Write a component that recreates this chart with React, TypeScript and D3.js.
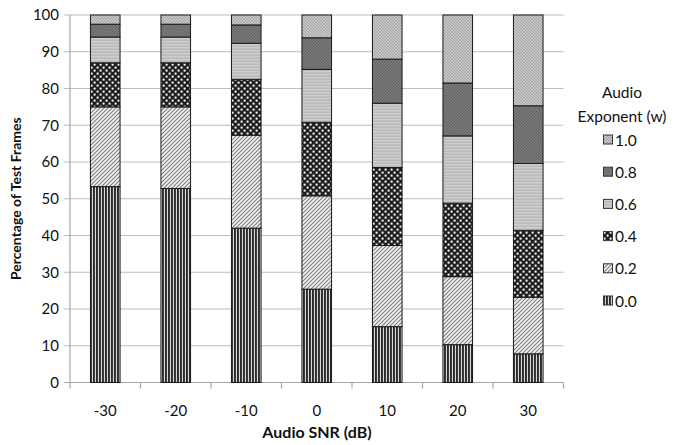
import React from "react";
import * as d3 from "d3";

// Audio SNR levels (dB) along the x axis
const snrLevels = ["-30", "-20", "-10", "0", "10", "20", "30"];
// Audio exponent weights, bottom of the stack first
const exponents = ["0.0", "0.2", "0.4", "0.6", "0.8", "1.0"];
// Percentage of test frames for each exponent at each SNR level
const w00 = [53.3, 52.8, 42.0, 25.4, 15.2, 10.3, 7.8];
const w02 = [21.7, 22.2, 25.3, 25.4, 22.1, 18.5, 15.4];
const w04 = [12.0, 12.0, 15.2, 20.0, 21.2, 20.0, 18.2];
const w06 = [7.0, 7.0, 9.8, 14.4, 17.5, 18.3, 18.2];
const w08 = [3.5, 3.5, 5.0, 8.6, 12.0, 14.4, 15.7];
const w10 = [2.5, 2.5, 2.7, 6.2, 12.0, 18.5, 24.7];
const yTicks = [0, 10, 20, 30, 40, 50, 60, 70, 80, 90, 100];

const seriesValues = [w00, w02, w04, w06, w08, w10];

const W = 675;
const H = 445;
const margin = { left: 70, right: 111.5, top: 15, bottom: 62.5 };
const FONT = "Lato, 'Open Sans', sans-serif";

const patternIds = ["pat00", "pat02", "pat04", "pat06", "pat08", "pat10"];

function Patterns() {
  return (
    <defs>
      {/* vertical stripes */}
      <pattern id="pat00" width={3} height={4} patternUnits="userSpaceOnUse">
        <rect width={3} height={4} fill="#d8d8d8" />
        <rect x={0} width={1.9} height={4} fill="#2a2a2a" />
      </pattern>
      {/* light upward diagonal */}
      <pattern id="pat02" width={4} height={4} patternUnits="userSpaceOnUse">
        <rect width={4} height={4} fill="#f2f2f2" />
        <path d="M-1,5 L5,-1 M-1,1 L1,-1 M3,5 L5,3" stroke="#7e7e7e" strokeWidth={1.1} />
      </pattern>
      {/* checker dots */}
      <pattern id="pat04" width={6} height={6} patternUnits="userSpaceOnUse">
        <rect width={6} height={6} fill="#1e1e1e" />
        <rect x={0.6} y={0.6} width={2} height={2} fill="#ffffff" />
        <rect x={3.6} y={3.6} width={2} height={2} fill="#ffffff" />
      </pattern>
      {/* light gray wave texture */}
      <pattern id="pat06" width={4} height={3} patternUnits="userSpaceOnUse">
        <rect width={4} height={3} fill="#cdcdcd" />
        <path d="M0,1.5 L1,0.8 L2,1.5 L3,0.8 L4,1.5" stroke="#a2a2a2" strokeWidth={0.7} fill="none" />
      </pattern>
      {/* dark gray texture */}
      <pattern id="pat08" width={3} height={3} patternUnits="userSpaceOnUse">
        <rect width={3} height={3} fill="#7a7a7a" />
        <path d="M0,3 L3,0" stroke="#585858" strokeWidth={0.8} />
      </pattern>
      {/* light downward diagonal */}
      <pattern id="pat10" width={3} height={3} patternUnits="userSpaceOnUse">
        <rect width={3} height={3} fill="#c6c6c6" />
        <path d="M0,0 L3,3" stroke="#989898" strokeWidth={0.8} />
      </pattern>
    </defs>
  );
}

export default function App() {
  const x = d3
    .scaleBand<string>()
    .domain(snrLevels)
    .range([margin.left, W - margin.right])
    .paddingInner(0.58)
    .paddingOuter(0.29);
  const y = d3
    .scaleLinear()
    .domain([0, 100])
    .range([H - margin.bottom, margin.top]);

  const rows = snrLevels.map((snr, i) => {
    const r: Record<string, number | string> = { snr };
    exponents.forEach((e, k) => (r[e] = seriesValues[k][i]));
    return r;
  });
  const stacked = d3.stack<Record<string, number | string>>().keys(exponents)(rows as any);

  const band = (W - margin.right - margin.left) / snrLevels.length;
  const x0 = margin.left;
  const x1 = W - margin.right;
  const yBase = y(0);

  const legendItems = [...exponents].reverse();
  const legendY = d3.scaleLinear().domain([0, 5]).range([140, 301]);

  return (
    <svg width={W} height={H} style={{ position: "absolute", left: 0, top: 0 }}>
      <Patterns />
      <rect width={W} height={H} fill="#fff" />
      {/* gridlines */}
      {yTicks.map((t) => (
        <line key={t} x1={x0 - 6} x2={x1} y1={y(t)} y2={y(t)} stroke="#bdbdbd" strokeWidth={1.2} />
      ))}
      {/* axes */}
      <line x1={x0} x2={x0} y1={y(100)} y2={yBase} stroke="#a8a8a8" strokeWidth={1.2} />
      <line x1={x0 - 6} x2={x1} y1={yBase} y2={yBase} stroke="#a8a8a8" strokeWidth={1.2} />
      {snrLevels.map((_, i) => (
        <line key={i} x1={x0 + band * i} x2={x0 + band * i} y1={yBase} y2={yBase + 6} stroke="#a8a8a8" strokeWidth={1.2} />
      ))}
      <line x1={x1} x2={x1} y1={yBase} y2={yBase + 6} stroke="#a8a8a8" strokeWidth={1.2} />
      {/* y tick labels */}
      {yTicks.map((t) => (
        <text key={t} x={x0 - 11} y={y(t)} dy="0.36em" textAnchor="end" fontFamily={FONT} fontSize={15} fill="#111">
          {t}
        </text>
      ))}
      {/* x tick labels */}
      {snrLevels.map((s) => (
        <text key={s} x={(x(s) as number) + x.bandwidth() / 2} y={yBase + 33} textAnchor="middle" fontFamily={FONT} fontSize={15} fill="#111">
          {s}
        </text>
      ))}
      {/* stacked bars */}
      {stacked.map((layer, k) => (
        <g key={layer.key} fill={`url(#${patternIds[k]})`} stroke="#1a1a1a" strokeWidth={1}>
          {layer.map((d, i) => (
            <rect
              key={i}
              x={x(snrLevels[i]) as number}
              width={x.bandwidth()}
              y={y(d[1])}
              height={y(d[0]) - y(d[1])}
            />
          ))}
        </g>
      ))}
      {/* axis titles */}
      <text x={317} y={438} textAnchor="middle" fontFamily={FONT} fontWeight="bold" fontSize={16} fill="#111">
        Audio SNR (dB)
      </text>
      <text
        transform={`translate(21,${(y(0) + y(100)) / 2}) rotate(-90)`}
        textAnchor="middle"
        fontFamily={FONT}
        fontWeight="bold"
        fontSize={14}
        fill="#111"
      >
        Percentage of Test Frames
      </text>
      {/* legend */}
      <text x={622} y={98} textAnchor="middle" fontFamily={FONT} fontSize={15.5} fill="#111">Audio</text>
      <text x={622} y={122} textAnchor="middle" fontFamily={FONT} fontSize={15.5} fill="#111">Exponent (w)</text>
      {legendItems.map((e, j) => {
        const k = exponents.indexOf(e);
        const cy = legendY(j);
        return (
          <g key={e}>
            <rect x={603.5} y={cy - 5} width={9} height={9} fill={`url(#${patternIds[k]})`} stroke="#333" strokeWidth={1} />
            <text x={615} y={cy} dy="0.36em" fontFamily={FONT} fontSize={15.5} fill="#111">{e}</text>
          </g>
        );
      })}
    </svg>
  );
}
